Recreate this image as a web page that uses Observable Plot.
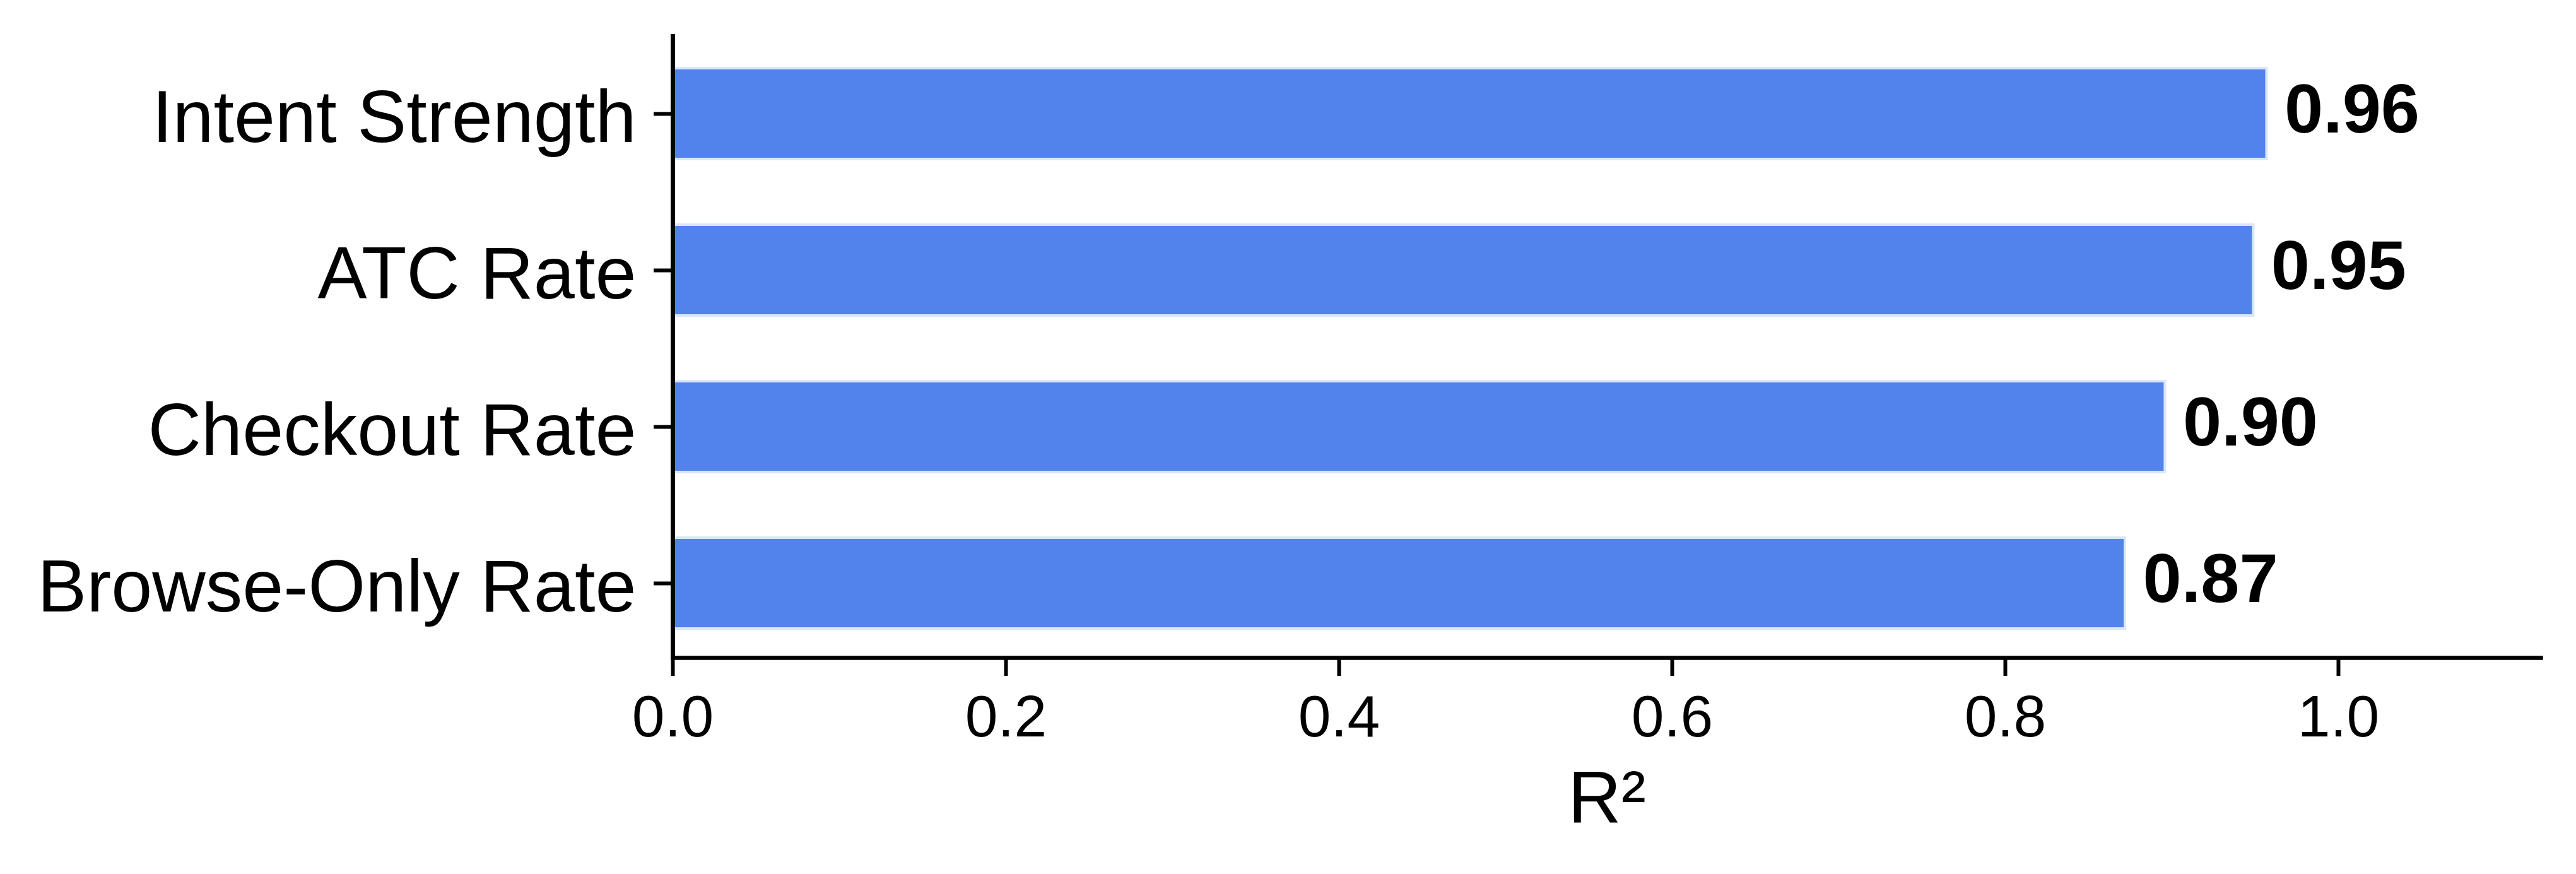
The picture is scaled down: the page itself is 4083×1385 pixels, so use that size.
<!DOCTYPE html>
<html>
<head>
<meta charset="utf-8">
<script src="https://cdn.jsdelivr.net/npm/d3@7"></script>
<script src="https://cdn.jsdelivr.net/npm/@observablehq/plot@0.6"></script>
<style>
  html, body { margin: 0; padding: 0; background: #ffffff; }
  #chart svg { display: block; }
</style>
</head>
<body>
<div id="chart"></div>
<script>
const categories = ["Intent Strength", "ATC Rate", "Checkout Rate", "Browse-Only Rate"];
const r2Values = [0.957, 0.949, 0.896, 0.872];
const xTicks = [0, 0.2, 0.4, 0.6, 0.8, 1.0];
const xLabel = "R²";

const data = categories.map((c, i) => ({category: c, r2: r2Values[i]}));

const chart = Plot.plot({
  width: 4083,
  height: 1385,
  marginLeft: 1066,
  marginRight: 56,
  marginTop: 57,
  marginBottom: 343,
  style: {background: "#ffffff", color: "#000000", fontFamily: "'Liberation Sans', Arial, Helvetica, sans-serif"},
  x: {domain: [0, 1.1216]},
  y: {domain: categories, paddingInner: 0.42, paddingOuter: 0.1935, align: 0.52},
  marks: [
    Plot.barX(data, {x: "r2", y: "category", fill: "#5283ed", stroke: "#dbe6fb", strokeWidth: 4}),
    Plot.text(data, {
      x: "r2", y: "category", text: d => d.r2.toFixed(2),
      textAnchor: "start", dx: 28, dy: -6,
      fontSize: 110, fontWeight: "bold", fill: "#000000"
    }),
    Plot.axisY({tickSize: 30, tickFormat: () => "", strokeWidth: 6, label: null}),
    Plot.axisY({tickSize: 0, tickPadding: 58, dy: 7, fontSize: 117, label: null, fill: "#000000"}),
    Plot.axisX({ticks: xTicks, tickFormat: d => d.toFixed(1), tickSize: 29, tickPadding: 29, fontSize: 93, strokeWidth: 6, label: null}),
    Plot.frame({anchor: "left", stroke: "#000000", strokeWidth: 7}),
    Plot.frame({anchor: "bottom", stroke: "#000000", strokeWidth: 6.5}),
    Plot.text([xLabel], {frameAnchor: "bottom", text: d => d, lineAnchor: "bottom", dy: 260, fontSize: 117, fill: "#000000"})
  ]
});
document.getElementById("chart").appendChild(chart);
</script>
</body>
</html>
